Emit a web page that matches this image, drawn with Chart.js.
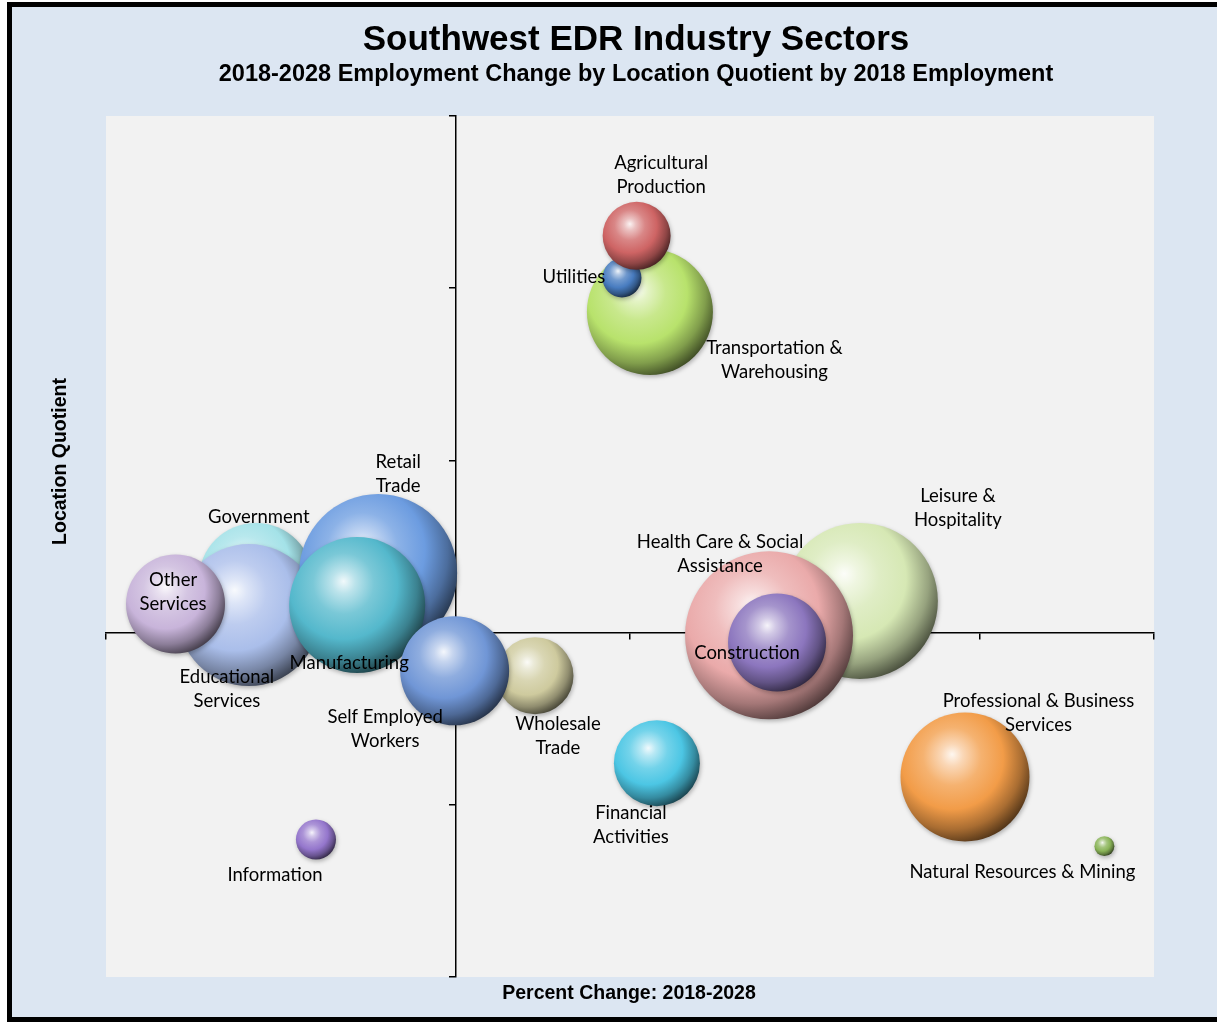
<!DOCTYPE html>
<html>
<head>
<meta charset="utf-8">
<script src="https://cdn.jsdelivr.net/npm/chart.js@4.4.1/dist/chart.umd.min.js"></script>
<style>
html,body{margin:0;padding:0;background:#ffffff;overflow:hidden;width:1217px;height:1022px;}
#frame{position:absolute;left:7px;top:2px;width:1300px;height:1010px;border:5px solid #000;background:#dce6f2;}
#wrap{position:absolute;left:0;top:0;width:1217px;height:1022px;}
</style>
</head>
<body>
<div id="frame"></div>
<div id="wrap"><canvas id="c"></canvas></div>
<script>
// ---- data (drawing order: first drawn at the back) ----
const sectors = [
  'Transportation & Warehousing', 'Utilities', 'Agricultural Production',
  'Leisure & Hospitality', 'Health Care & Social Assistance', 'Construction',
  'Professional & Business Services', 'Natural Resources & Mining', 'Financial Activities',
  'Government', 'Educational Services', 'Other Services', 'Retail Trade',
  'Manufacturing', 'Wholesale Trade', 'Self Employed Workers', 'Information'
];
// Percent change in employment 2018-2028
const pctChange = [5.57, 4.77, 5.19, 11.58, 8.98, 9.21, 14.59, 18.58, 5.77,
  -5.71, -5.91, -8.01, -2.21, -2.81, 2.28, -0.02, -3.99];
// Location quotient
const locQuotient = [1.931, 2.030, 2.152, 1.092, 0.992, 0.971, 0.581, 0.380, 0.621,
  1.153, 1.051, 1.083, 1.173, 1.080, 0.875, 0.889, 0.399];
// 2018 employment (bubble size)
const employment2018 = [19600, 1880, 5710, 30040, 34840, 11860, 20540, 490, 9130,
  16040, 24890, 12100, 30820, 22830, 7320, 14670, 1980];

// ---- point label text (wrapped as in the original) ----
const labelLines = [
  ['Transportation &', 'Warehousing'], ['Utilities'], ['Agricultural', 'Production'],
  ['Leisure &', 'Hospitality'], ['Health Care & Social', 'Assistance'], ['Construction'],
  ['Professional & Business', 'Services'], ['Natural Resources & Mining'], ['Financial', 'Activities'],
  ['Government'], ['Educational', 'Services'], ['Other', 'Services'], ['Retail', 'Trade'],
  ['Manufacturing'], ['Wholesale', 'Trade'], ['Self Employed', 'Workers'], ['Information']
];
// label placement relative to the bubble centre (px)
const labelOffsets = [
  [124.5, 36], [-48, -1], [24.5, -73], [98, -105], [-49, -93.5], [-30, 10.5],
  [73.5, -76], [-82, 26], [-26, 50], [3, -63], [-22, 62], [-2.5, -24], [20, -111],
  [-8, 58], [23, 48.5], [-69.5, 46], [-41, 35.5]
];
// styles
const baseColors = [
  [184, 226, 108], [72, 124, 192], [206, 100, 100], [214, 232, 180], [234, 170, 170],
  [140, 118, 190], [242, 156, 72], [138, 180, 88], [76, 198, 228], [164, 226, 232],
  [170, 190, 234], [200, 180, 218], [108, 156, 224], [84, 184, 204], [206, 202, 158],
  [112, 150, 214], [148, 118, 204]
];
const SIZE_K = 0.45;

const points = pctChange.map((x, i) => ({
  x: x, y: locQuotient[i], r: SIZE_K * Math.sqrt(employment2018[i])
}));

function mix(c, t, w) {
  return 'rgb(' + c.map((v, k) => Math.round(v + (t[k] - v) * w)).join(',') + ')';
}
function sphere(context) {
  const chart = context.chart;
  const i = context.dataIndex;
  const c = baseColors[i];
  const raw = context.raw;
  const xs = chart.scales && chart.scales.x, ys = chart.scales && chart.scales.y;
  if (!raw || !xs || !ys || !chart.chartArea) return mix(c, c, 0);
  const cx = xs.getPixelForValue(raw.x), cy = ys.getPixelForValue(raw.y), r = raw.r;
  const g = chart.ctx.createRadialGradient(cx - 0.2 * r, cy - 0.35 * r, 0,
                                           cx - 0.2 * r, cy - 0.25 * r, 1.32 * r);
  const W = [255, 255, 255], K = [0, 0, 0];
  g.addColorStop(0, mix(c, W, 0.92));
  g.addColorStop(0.13, mix(c, W, 0.6));
  g.addColorStop(0.34, mix(c, W, 0.22));
  g.addColorStop(0.6, mix(c, c, 0));
  g.addColorStop(0.82, mix(c, K, 0.3));
  g.addColorStop(1, mix(c, K, 0.66));
  return g;
}

const plotBg = {
  id: 'plotBg',
  beforeDraw(chart) {
    const { ctx, chartArea: a } = chart;
    ctx.save();
    ctx.fillStyle = '#f2f2f2';
    ctx.fillRect(a.left, a.top, a.right - a.left, a.bottom - a.top);
    ctx.restore();
  },
  beforeDatasetsDraw(chart) {
    const ctx = chart.ctx;
    ctx.save();
    ctx.shadowColor = 'rgba(0,0,0,0.28)';
    ctx.shadowBlur = 4;
    ctx.shadowOffsetX = 1;
    ctx.shadowOffsetY = 2;
  },
  afterDatasetsDraw(chart) {
    chart.ctx.restore();
  }
};

const texts = {
  id: 'texts',
  afterDraw(chart) {
    const ctx = chart.ctx;
    ctx.save();
    ctx.fillStyle = '#000';
    ctx.textAlign = 'center';
    ctx.textBaseline = 'alphabetic';
    ctx.font = 'bold 35px "Liberation Sans", Arial, sans-serif';
    ctx.fillText('Southwest EDR Industry Sectors', 636, 50);
    ctx.font = 'bold 23.5px "Liberation Sans", Arial, sans-serif';
    ctx.fillText('2018-2028 Employment Change by Location Quotient by 2018 Employment', 636, 80.5);
    ctx.font = 'bold 19.5px "Liberation Sans", Arial, sans-serif';
    ctx.fillText('Percent Change: 2018-2028', 629, 999);
    ctx.save();
    ctx.translate(66, 461.5);
    ctx.rotate(-Math.PI / 2);
    ctx.fillText('Location Quotient', 0, 0);
    ctx.restore();
    const meta = chart.getDatasetMeta(0);
    ctx.font = '18.5px Lato, "Open Sans", sans-serif';
    ctx.textBaseline = 'middle';
    ctx.fillStyle = '#000';
    labelLines.forEach((lines, i) => {
      const el = meta.data[i];
      const [dx, dy] = labelOffsets[i];
      lines.forEach((t, k) => ctx.fillText(t, el.x + dx, el.y + dy + k * 24));
    });
    ctx.restore();
  }
};

const gridStyle = { display: true, drawOnChartArea: false, drawTicks: true, tickLength: 6, color: '#000', lineWidth: 1.5 };
const borderStyle = { display: true, color: '#000', width: 1.5 };

new Chart(document.getElementById('c'), {
  type: 'bubble',
  data: {
    datasets: [{
      label: '2018 Employment',
      data: points,
      backgroundColor: sphere,
      borderWidth: 0,
      hoverBorderWidth: 0
    }]
  },
  options: {
    responsive: true,
    maintainAspectRatio: false,
    devicePixelRatio: 1,
    animation: false,
    events: [],
    layout: { autoPadding: false, padding: { left: 106, top: 116, right: 63, bottom: 45 } },
    plugins: { legend: { display: false }, tooltip: { enabled: false }, title: { display: false } },
    scales: {
      x: { type: 'linear', min: -10, max: 20, position: { y: 1 },
        ticks: { display: false, stepSize: 5 }, grid: gridStyle, border: borderStyle },
      y: { type: 'linear', min: 0, max: 2.5, position: { x: 0 },
        ticks: { display: false, stepSize: 0.5 }, grid: gridStyle, border: borderStyle }
    }
  },
  plugins: [plotBg, texts]
});
</script>
</body>
</html>
